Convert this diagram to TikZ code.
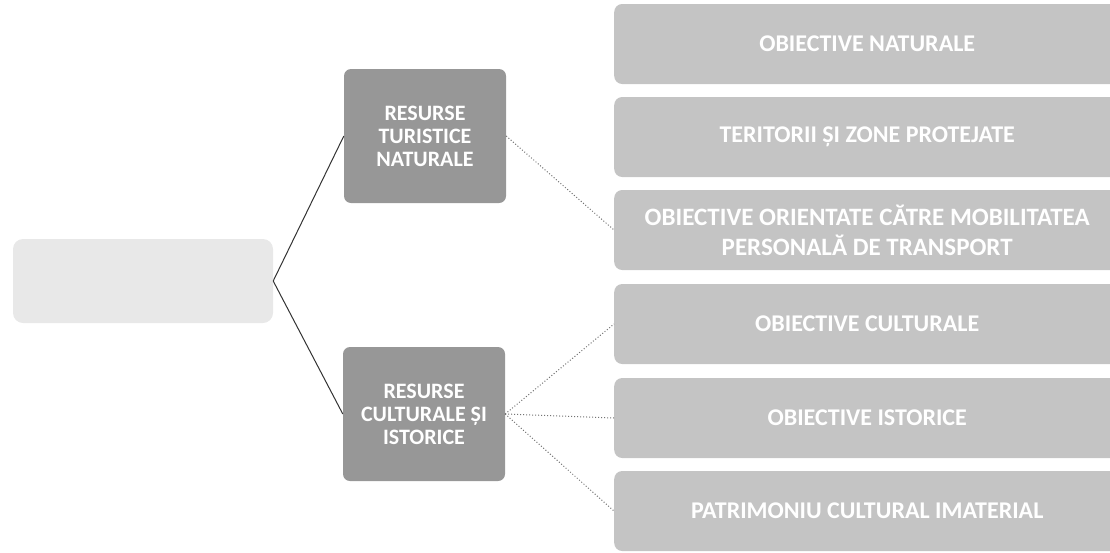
\documentclass[tikz,border=0pt]{standalone}
\usepackage{fontspec}
\setmainfont{Carlito}
\begin{document}
\begin{tikzpicture}[x=1pt,y=-1pt,
  midbox/.style={draw=none,fill=midgray,rounded corners=7pt,minimum width=162pt,minimum height=134pt,
     align=center,text=white,font=\fontsize{22}{23}\selectfont\bfseries,inner sep=2pt},
  rightbox/.style={draw=none,fill=rightgray,rounded corners=8pt,minimum width=506pt,minimum height=80pt,
     align=center,text=white,font=\fontsize{24}{29}\selectfont\bfseries,inner sep=2pt,anchor=west},
  leftbox/.style={draw=none,fill=leftgray,rounded corners=10pt,minimum width=260pt,minimum height=84pt},
  solidlink/.style={draw=black!80,line width=1pt},
  dotlink/.style={draw=black!55,line width=1pt,dotted}]
\definecolor{midgray}{HTML}{979797}
\definecolor{rightgray}{HTML}{C4C4C4}
\definecolor{leftgray}{HTML}{E8E8E8}
\useasboundingbox (0,0) rectangle (1110,552);
\node[leftbox] (root) at (143,281) {};
\node[midbox] (nat) at (425,136) {RESURSE\\TURISTICE\\NATURALE};
\node[midbox] (cul) at (424,414) {RESURSE\\CULTURALE ȘI\\ISTORICE};
\node[rightbox] (r1) at (614,44) {OBIECTIVE NATURALE};
\node[rightbox] (r2) at (614,137) {TERITORII ȘI ZONE PROTEJATE};
\node[rightbox,font=\fontsize{25}{30}\selectfont\bfseries] (r3) at (614,230) {OBIECTIVE ORIENTATE CĂTRE MOBILITATEA\\PERSONALĂ DE TRANSPORT};
\node[rightbox] (r4) at (614,324) {OBIECTIVE CULTURALE};
\node[rightbox] (r5) at (614,418) {OBIECTIVE ISTORICE};
\node[rightbox] (r6) at (614,511) {PATRIMONIU CULTURAL IMATERIAL};
\draw[solidlink] (root.east) -- (nat.west);
\draw[solidlink] (root.east) -- (cul.west);
\draw[dotlink] (nat.east) -- (r3.west);
\draw[dotlink] (cul.east) -- (r4.west);
\draw[dotlink] (cul.east) -- (r5.west);
\draw[dotlink] (cul.east) -- (r6.west);
\end{tikzpicture}
\end{document}
